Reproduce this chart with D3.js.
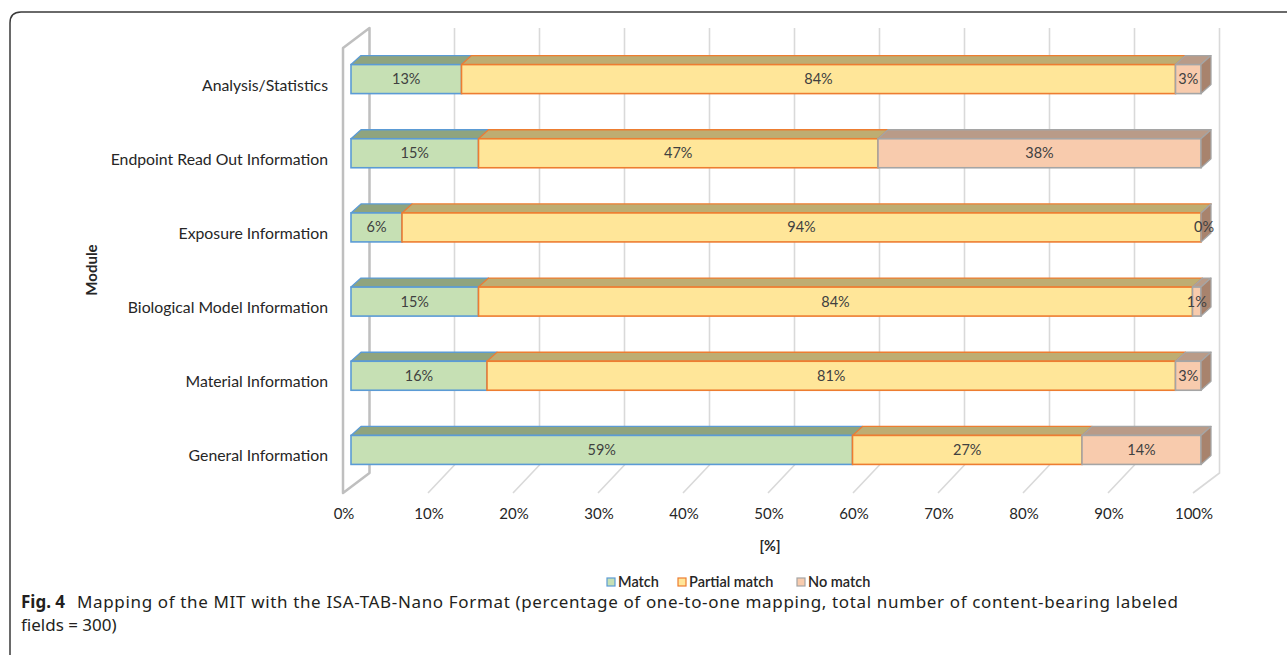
<!DOCTYPE html>
<html>
<head>
<meta charset="utf-8">
<script src="https://cdn.jsdelivr.net/npm/d3@7"></script>
<style>
  body { margin: 0; background: #fff; }
  svg { display: block; font-family: Lato, "Open Sans", sans-serif; }
</style>
</head>
<body>
<svg></svg>
<script>
const categories = ["Analysis/Statistics", "Endpoint Read Out Information", "Exposure Information",
  "Biological Model Information", "Material Information", "General Information"];
const match   = [13, 15, 6, 15, 16, 59];
const partial = [84, 47, 94, 84, 81, 27];
const noMatch = [3, 38, 0, 1, 3, 14];
const seriesNames = ["Match", "Partial match", "No match"];
const ticks = [0, 10, 20, 30, 40, 50, 60, 70, 80, 90, 100];

document.addEventListener("DOMContentLoaded", () => {
  const width = 1287, height = 655;
  const svg = d3.select("svg").attr("width", width).attr("height", height);

  // series look: front fill, edge, top face, side face
  const looks = [
    { fill: "#c6e0b4", stroke: "#5b9bd5", top: "#8fa47e", side: "#7f9470" },
    { fill: "#ffe699", stroke: "#ed7d31", top: "#bead72", side: "#a89860" },
    { fill: "#f8cbad", stroke: "#a5a5a5", top: "#b99b88", side: "#a8836d" }
  ];

  // front plane of the floor
  const x = d3.scaleLinear().domain([0, 100]).range([343, 1193]);
  const y = d3.scaleBand().domain(categories).range([48, 493]);
  const depth = { dx: 26.5, dy: -20 };   // front -> back wall
  const barOff = { dx: 8, dy: -6 };      // bar front face offset
  const barDepth = { dx: 10, dy: -9 };
  const barH = 29;

  // frame
  svg.append("path")
    .attr("d", "M10,655 L10,23 Q10,12 21,12 L1287,12")
    .attr("fill", "none").attr("stroke", "#3a3a3a").attr("stroke-width", 1.5);

  // gridlines on back wall + floor
  const grid = svg.append("g");
  ticks.forEach(t => {
    const bx = x(t) + depth.dx;
    if (t === 0) return;
    const edge = t === 100;
    const bend = edge ? 493 + depth.dy : 465;
    grid.append("path")
      .attr("d", `M${bx},28 L${bx},${bend} L${x(t)},493`)
      .attr("fill", "none").attr("stroke", "#d9d9d9").attr("stroke-width", 1.6);
  });

  // left wall
  svg.append("path")
    .attr("d", `M${x(0)},493 L${x(0)},48 L${x(0) + depth.dx},28 L${x(0) + depth.dx},${493 + depth.dy} Z`)
    .attr("fill", "none").attr("stroke", "#bfbfbf").attr("stroke-width", 2.5)
    .attr("stroke-linejoin", "round");

  // stacked 3D bars
  const rows = categories.map((c, i) => [match[i], partial[i], noMatch[i]]);
  const bars = svg.append("g");
  rows.forEach((vals, i) => {
    const cy = y(categories[i]) + y.bandwidth() / 2 + barOff.dy;
    const yt = cy - barH / 2, yb = cy + barH / 2;
    let acc = 0;
    const g = bars.append("g");
    vals.forEach((v, s) => {
      const x0 = x(acc) + barOff.dx, x1 = x(acc + v) + barOff.dx;
      const lk = looks[s];
      // top face
      g.append("path")
        .attr("d", `M${x0},${yt} L${x0 + barDepth.dx},${yt + barDepth.dy} L${x1 + barDepth.dx},${yt + barDepth.dy} L${x1},${yt} Z`)
        .attr("fill", lk.top).attr("stroke", lk.stroke).attr("stroke-width", 1.3)
        .attr("stroke-linejoin", "round");
      // front face
      g.append("rect")
        .attr("x", x0).attr("y", yt).attr("width", x1 - x0).attr("height", barH)
        .attr("fill", lk.fill).attr("stroke", lk.stroke).attr("stroke-width", 1.6);
      acc += v;
    });
    // side face at bar end
    const xe = x(100) + barOff.dx, lk = looks[2];
    g.append("path")
      .attr("d", `M${xe},${yt} L${xe + barDepth.dx},${yt + barDepth.dy} L${xe + barDepth.dx},${yb + barDepth.dy} L${xe},${yb} Z`)
      .attr("fill", lk.side).attr("stroke", lk.stroke).attr("stroke-width", 1.3)
      .attr("stroke-linejoin", "round");
    // value labels
    acc = 0;
    vals.forEach(v => {
      g.append("text")
        .attr("x", x(acc + v / 2) + barOff.dx + (v === 0 ? 3 : 0))
        .attr("y", cy).attr("dy", "0.35em")
        .attr("text-anchor", "middle").attr("font-size", 14.5).attr("fill", "#404040")
        .text(v + "%");
      acc += v;
    });
  });

  // category labels
  svg.append("g").selectAll("text").data(categories).join("text")
    .attr("x", 328).attr("y", d => y(d) + y.bandwidth() / 2).attr("dy", "0.35em")
    .attr("text-anchor", "end").attr("font-size", 15.8).attr("fill", "#262626")
    .text(d => d);

  // tick labels
  svg.append("g").selectAll("text").data(ticks).join("text")
    .attr("x", d => x(d) + 1).attr("y", 514).attr("dy", "0.35em")
    .attr("text-anchor", "middle").attr("font-size", 15).attr("fill", "#262626")
    .text(d => d + "%");

  // axis titles
  svg.append("text").attr("x", 770).attr("y", 546).attr("dy", "0.35em")
    .attr("text-anchor", "middle").attr("font-size", 14.5).attr("font-weight", "bold")
    .attr("fill", "#262626").text("[%]");
  svg.append("text").attr("transform", "translate(92,270) rotate(-90)").attr("dy", "0.35em")
    .attr("text-anchor", "middle").attr("font-size", 15).attr("font-weight", "bold")
    .attr("fill", "#262626").text("Module");

  // legend
  const legX = [607, 678, 797];
  const leg = svg.append("g");
  seriesNames.forEach((n, s) => {
    leg.append("rect").attr("x", legX[s]).attr("y", 578).attr("width", 8).attr("height", 8)
      .attr("fill", looks[s].fill).attr("stroke", looks[s].stroke).attr("stroke-width", 1.2);
    leg.append("text").attr("x", legX[s] + 11).attr("y", 582).attr("dy", "0.35em")
      .attr("font-size", 14.5).attr("font-weight", 600).attr("fill", "#262626").text(n);
  });

  // caption
  const cap = svg.append("text").attr("font-family", "'Noto Sans', 'Open Sans', sans-serif")
    .attr("font-size", 17).attr("fill", "#231f20");
  cap.append("tspan").attr("x", 21).attr("y", 608).attr("font-weight", "bold").text("Fig. 4");
  cap.append("tspan").attr("x", 77).attr("y", 608)
    .attr("textLength", 1101).attr("lengthAdjust", "spacing")
    .text("Mapping of the MIT with the ISA-TAB-Nano Format (percentage of one-to-one mapping, total number of content-bearing labeled");
  cap.append("tspan").attr("x", 21).attr("y", 631).text("fields = 300)");
});
</script>
</body>
</html>
